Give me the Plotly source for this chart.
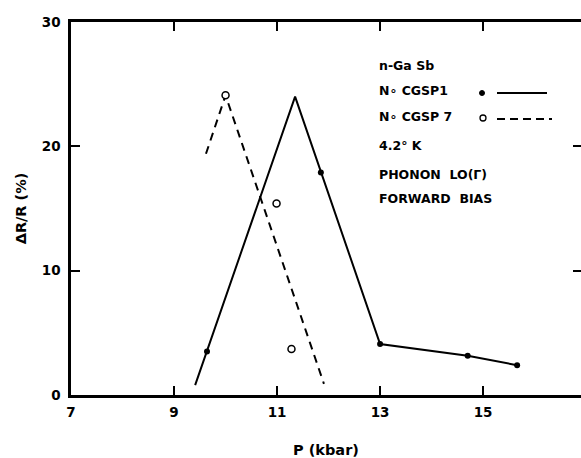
import plotly.graph_objects as go

# Sample CGSP1: measured points and the drawn curve through them
p1_pts = [9.64, 11.85, 13.0, 14.7, 15.66]
r1_pts = [3.5, 17.9, 4.1, 3.15, 2.4]
p1_line = [9.41, 11.35, 13.0, 14.7, 15.66]
r1_line = [0.8, 24.0, 4.1, 3.15, 2.4]

# Sample CGSP7: measured points and the dashed curve
p7_pts = [10.0, 10.99, 11.28]
r7_pts = [24.1, 15.4, 3.7]
p7_line = [9.62, 10.0, 11.91]
r7_line = [19.4, 24.1, 0.9]

x_ticks = [7, 9, 11, 13, 15]
y_ticks = [0, 10, 20, 30]

legend_lines = ["n-Ga Sb", "N\u2218 CGSP1", "N\u2218 CGSP 7", "4.2\u00b0 K",
                "PHONON  LO(\u0393)", "FORWARD  BIAS"]

FONT = "DejaVu Sans"
W, H = 581, 458
L, T, B = 71, 22, 63
PW, PH = W - L, H - T - B

def px(x):
    return (x - L) / PW

def py(y):
    return (H - B - y) / PH

fig = go.Figure()
fig.add_trace(go.Scatter(x=p1_line, y=r1_line, mode="lines",
                         line=dict(color="black", width=2), showlegend=False))
fig.add_trace(go.Scatter(x=p1_pts, y=r1_pts, mode="markers",
                         marker=dict(color="black", size=6), showlegend=False))
fig.add_trace(go.Scatter(x=p7_line, y=r7_line, mode="lines",
                         line=dict(color="black", width=2, dash="8px,6px"), showlegend=False))
fig.add_trace(go.Scatter(x=p7_pts, y=r7_pts, mode="markers",
                         marker=dict(color="white", size=7, symbol="circle",
                                     line=dict(color="black", width=1.5)),
                         showlegend=False))
# right-hand frame ticks
fig.add_trace(go.Scatter(x=[7], y=[0], yaxis="y2", mode="markers",
                         marker=dict(opacity=0), showlegend=False, hoverinfo="skip"))

axis_font = dict(family=FONT, size=13.5, color="black")

fig.update_layout(
    width=W, height=H,
    margin=dict(l=L, r=0, t=T, b=B),
    paper_bgcolor="white", plot_bgcolor="white",
    xaxis=dict(range=[7, 16.9], tickvals=x_ticks,
               ticktext=["<b>%d</b>" % v for v in x_ticks],
               ticks="inside", ticklen=9, tickwidth=2, tickcolor="black",
               showline=True, linecolor="black", linewidth=2.5, mirror="ticks",
               showgrid=False, zeroline=False,
               tickfont=axis_font, ticklabelstandoff=3,
               title=dict(text="<b>P (kbar)</b>", font=dict(family=FONT, size=14.5, color="black"),
                          standoff=26)),
    yaxis=dict(range=[0, 30], tickvals=y_ticks,
               ticktext=["<b>%d</b>" % v for v in y_ticks],
               ticks="inside", ticklen=9, tickwidth=2, tickcolor="black",
               showline=True, linecolor="black", linewidth=2.5, mirror=False,
               showgrid=False, zeroline=False,
               tickfont=axis_font, ticklabelstandoff=5,
               title=dict(text="<b>\u0394R/R (%)</b>", font=dict(family=FONT, size=14.5, color="black"),
                          standoff=12)),
    yaxis2=dict(range=[0, 30], overlaying="y", side="right", tickvals=[10, 20],
                ticks="inside", ticklen=8, tickwidth=2, tickcolor="black",
                showticklabels=False, showline=False, showgrid=False, zeroline=False),
)

# Legend text block
legend_y = [66, 90, 117, 145, 174, 198]
for txt, yy in zip(legend_lines, legend_y):
    fig.add_annotation(x=px(377), y=py(yy), xref="paper", yref="paper",
                       text="<b>" + txt + "</b>", showarrow=False,
                       xanchor="left", yanchor="middle",
                       font=dict(family=FONT, size=12.5, color="black"))

# Legend symbol samples
fig.add_shape(type="circle", xref="paper", yref="paper",
              x0=px(479.5), x1=px(484.5), y0=py(95.5), y1=py(90.5),
              fillcolor="black", line=dict(color="black", width=1))
fig.add_shape(type="line", xref="paper", yref="paper",
              x0=px(497), x1=px(547), y0=py(93), y1=py(93),
              line=dict(color="black", width=2))
fig.add_shape(type="circle", xref="paper", yref="paper",
              x0=px(480), x1=px(486), y0=py(121), y1=py(115),
              fillcolor="white", line=dict(color="black", width=1.3))
fig.add_shape(type="line", xref="paper", yref="paper",
              x0=px(497), x1=px(552), y0=py(119), y1=py(119),
              line=dict(color="black", width=2, dash="8px,5px"))

fig.write_html("out.html")
